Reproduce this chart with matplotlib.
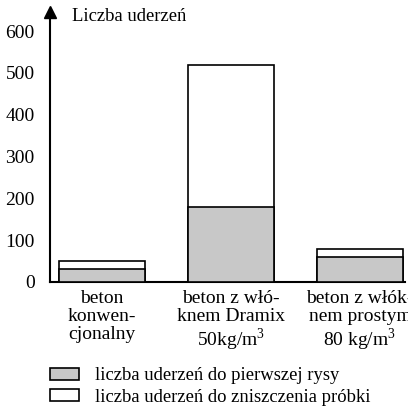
import numpy as np
import matplotlib.pyplot as plt
from matplotlib.patches import Patch

plt.rcParams['font.family'] = 'Liberation Serif'
plt.rcParams['mathtext.fontset'] = 'custom'
plt.rcParams['mathtext.rm'] = 'Liberation Serif'

# data
categories = ['beton\nkonwen-\ncjonalny',
              'beton z włó-\nknem Dramix\n50kg/m$^3$',
              'beton z włók-\nnem prostym\n80 kg/m$^3$']
first_crack = [30, 180, 60]
destruction = [50, 520, 80]
yticks = [0, 100, 200, 300, 400, 500, 600]

fs = 14
fs_small = 13.4
gray = '#c8c8c8'

fig = plt.figure(figsize=(4.08, 4.11), dpi=100)
ax = fig.add_axes([0.1225, 0.314, 0.87, 0.657])

x = np.arange(len(categories))
ax.bar(x, destruction, width=0.667, color='white', edgecolor='black', linewidth=1.2, zorder=2)
ax.bar(x, first_crack, width=0.667, color=gray, edgecolor='black', linewidth=1.2, zorder=3)

ax.set_xlim(-0.403, 2.349)
ax.set_ylim(0, 646)
ax.set_yticks(yticks)
ax.set_yticklabels([str(t) for t in yticks], fontsize=fs)
ax.set_xticks(x)
ax.set_xticklabels(categories, fontsize=fs, linespacing=1.07)
ax.tick_params(length=0, pad=6)
ax.tick_params(axis='y', pad=11)

for s in ['top', 'right']:
    ax.spines[s].set_visible(False)
ax.spines['left'].set_linewidth(1.5)
ax.spines['bottom'].set_linewidth(1.5)

# arrow on the y axis
ax.plot(0, 1, marker='^', color='black', markersize=8, transform=ax.transAxes, clip_on=False)
ax.text(0.062, 0.983, 'Liczba uderzeń', transform=ax.transAxes, fontsize=fs_small, va='center', ha='left')

handles = [Patch(facecolor=gray, edgecolor='black', linewidth=1.2),
           Patch(facecolor='white', edgecolor='black', linewidth=1.2)]
labels = ['liczba uderzeń do pierwszej rysy', 'liczba uderzeń do zniszczenia próbki']
fig.legend(handles, labels, loc='upper left', bbox_to_anchor=(0.122, 0.106), frameon=False,
           fontsize=fs_small, handlelength=1.55, handleheight=0.65, handletextpad=0.9,
           labelspacing=0.22, borderaxespad=0, borderpad=0)

fig.savefig('out.png', dpi=100)
